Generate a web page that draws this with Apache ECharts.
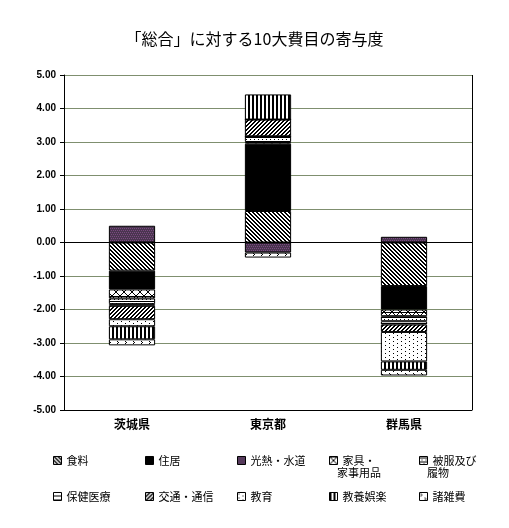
<!DOCTYPE html>
<html><head><meta charset="utf-8">
<script src="https://cdn.jsdelivr.net/npm/echarts@6/dist/echarts.min.js"></script>
<style>html,body{margin:0;padding:0;background:#fff}#c{width:509px;height:528px}</style>
</head><body><div id="c"></div>
<script>
const categories = ['茨城県','東京都','群馬県'];
const seriesNames = ['食料','住居','光熱・水道','家具・\n家事用品','被服及び\n履物','保健医療','交通・通信','教育','教養娯楽','諸雑費'];
const food      = [-0.84, 0.94, -1.30];
const housing   = [-0.56, 2.01, -0.70];
const utilities = [ 0.50, -0.30, 0.17];
const furniture = [-0.27, 0.05, -0.20];
const clothing  = [-0.17, 0.17, -0.15];
const health    = [-0.05, 0.00, -0.10];
const transport = [-0.40, 0.50, -0.22];
const education = [-0.21, 0.00, -0.88];
const culture   = [-0.39, 0.75, -0.25];
const misc      = [-0.18, -0.15, -0.17];
const yTicks = [-5,-4,-3,-2,-1,0,1,2,3,4,5];
const values = [food,housing,utilities,furniture,clothing,health,transport,education,culture,misc];

function pat(draw, size){
  const s=size||8; const c=document.createElement('canvas'); c.width=s;c.height=s;
  const g=c.getContext('2d'); g.fillStyle='#fff'; g.fillRect(0,0,s,s); g.fillStyle='#000';g.strokeStyle='#000';
  draw(g,s); return {image:c,repeat:'repeat'};
}
function px(g,x,y){g.fillRect(x,y,1,1);}
const patterns = [
  pat((g,s)=>{for(let i=0;i<s;i++){px(g,i,i);px(g,(i+1)%s,i);px(g,(i+4)%s,i);px(g,(i+5)%s,i);}}),
  '#000',
  pat((g,s)=>{g.fillStyle='#4a3550';g.fillRect(0,0,s,s);g.fillStyle='#7a4a80';for(let i=0;i<s;i+=2)for(let j=0;j<s;j+=2)px(g,i+(j%4?1:0),j);}),
  pat((g,s)=>{for(let i=0;i<s;i++){px(g,i,i);px(g,s-1-i,i);} g.fillRect(0,0,s,1);}),
  pat((g,s)=>{g.fillRect(0,1,s,1);g.fillRect(0,5,s,1);px(g,2,3);px(g,6,3);px(g,0,7);px(g,4,7);}),
  pat((g,s)=>{g.fillRect(0,3,s,1);g.fillRect(0,7,s,1);}),
  pat((g,s)=>{for(let i=0;i<s;i++){px(g,s-1-i,i);px(g,(s-i)%s,i);px(g,(s+3-i)%s,i);px(g,(s+4-i)%s,i);}}),
  pat((g,s)=>{px(g,1,1);px(g,5,3);px(g,1,5);px(g,5,7);}),
  pat((g,s)=>{g.fillRect(0,0,2,s);g.fillRect(4,0,2,s);},4),
  pat((g,s)=>{px(g,1,1);px(g,2,2);px(g,1,3);px(g,5,5);px(g,6,6);px(g,5,7);})
];

const series = seriesNames.map((n,i)=>({
  name:n, type:'bar', stack:'a', data:values[i], barWidth:'34%',
  itemStyle:{color:patterns[i], borderColor:'#000', borderWidth:1}
}));
series[0].markLine = {silent:true,symbol:'none',label:{show:false},lineStyle:{color:'#000',width:1,type:'solid'},data:[{yAxis:0}]};

const lx=[48,140,232,324,414], ly=[450,486];
const font={fontSize:11,color:'#000',fontFamily:'Noto Sans CJK JP'};
const legends = seriesNames.map((n,i)=>({
  data:[n], left:lx[i%5], top:ly[Math.floor(i/5)], itemWidth:8, itemHeight:8, icon:'rect',
  formatter:t=>t.split('\n')[0], textStyle:font,
  itemStyle:{borderColor:'#000',borderWidth:1}
}));
const graphics = seriesNames.map((n,i)=>n.split('\n')[1] ? {type:'text',left:lx[i%5]+13,top:ly[Math.floor(i/5)]+17,style:Object.assign({text:n.split('\n')[1],fill:'#000',font:'11px "Noto Sans CJK JP"'})} : null).filter(Boolean);
graphics.push({type:'line',shape:{x1:472.5,y1:75,x2:472.5,y2:410},style:{stroke:'#000',lineWidth:1}});

const chart = echarts.init(document.getElementById('c'));
chart.setOption({
  animation:false,
  title:{text:'「総合」に対する10大費目の寄与度',left:'center',top:26,textStyle:{fontSize:16,fontWeight:'normal',color:'#000',fontFamily:'Noto Sans CJK JP'}},
  legend:legends,
  graphic:graphics,
  grid:{left:64,right:37,top:75,bottom:118},
  xAxis:{type:'category',data:categories,position:'bottom',
    axisLine:{onZero:false,lineStyle:{color:'#000'}},axisTick:{show:false},
    axisLabel:{fontWeight:'bold',fontSize:12,color:'#000',fontFamily:'Noto Sans CJK JP',margin:8}},
  yAxis:{type:'value',min:-5,max:5,interval:1,
    axisLine:{show:true,lineStyle:{color:'#000'}},axisTick:{show:true,inside:false,length:4,lineStyle:{color:'#000'}},
    splitLine:{lineStyle:{color:'#7f8f6f'}},
    axisLabel:{formatter:v=>v.toFixed(2),fontWeight:'bold',fontSize:10,color:'#000',fontFamily:'Liberation Sans'}},
  series
});
</script></body></html>
